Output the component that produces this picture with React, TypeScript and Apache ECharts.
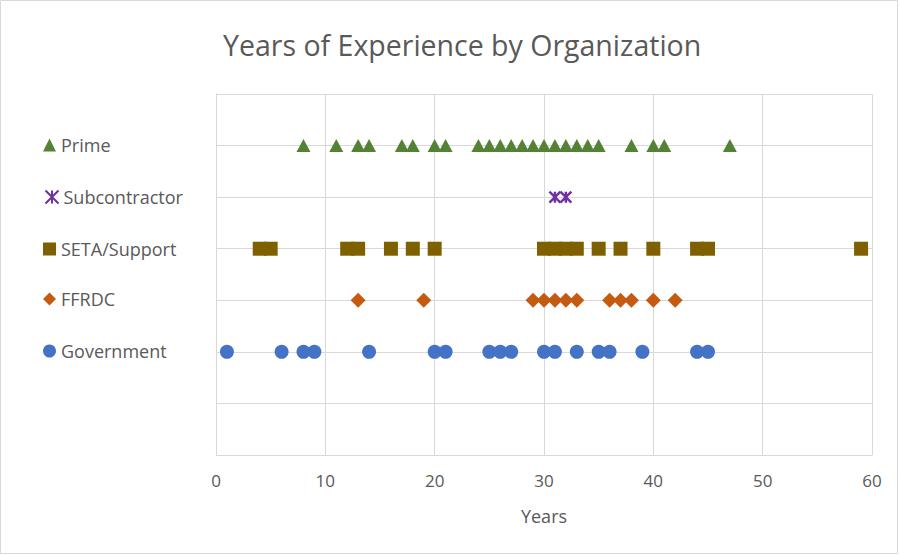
import React, { useEffect, useRef } from "react";
import * as echarts from "echarts";

const seriesNames = ["Government", "FFRDC", "SETA/Support", "Subcontractor", "Prime"];
const governmentYears = [1, 6, 8, 9, 14, 20, 21, 25, 26, 27, 30, 31, 33, 35, 36, 39, 44, 45];
const ffrdcYears = [13, 19, 29, 30, 31, 32, 33, 36, 37, 38, 40, 42];
const setaYears = [4, 5, 12, 13, 16, 18, 20, 30, 31, 32, 33, 35, 37, 40, 44, 45, 59];
const subcontractorYears = [31, 32];
const primeYears = [8, 11, 13, 14, 17, 18, 20, 21, 24, 25, 26, 27, 28, 29, 30, 31, 32, 33, 34, 35, 38, 40, 41, 47];
const rowLevels = [2, 3, 4, 5, 6];
const xTicks = [0, 10, 20, 30, 40, 50, 60];

const FONT = "'Open Sans', 'Noto Sans', sans-serif";
const TEXT = "#595959";

export default function App() {
  const ref = useRef<HTMLDivElement>(null);
  useEffect(() => {
    if (!ref.current) return;
    const chart = echarts.init(ref.current, undefined, { renderer: "svg" });
    const valuesList = [governmentYears, ffrdcYears, setaYears, subcontractorYears, primeYears];
    const colors = ["#4472C4", "#C55A11", "#7F6000", "#7030A0", "#548235"];
    const symbols = ["circle", "diamond", "rect", "path://M0,0L10,10M10,0L0,10M5,0L5,10", "triangle"];
    const sizes: any[] = [14, 15, [14, 14], 11, [14, 13]];
    const series = seriesNames.map((name, i) => {
      const isX = i === 3;
      return {
        name,
        type: "scatter",
        symbol: symbols[i],
        symbolSize: sizes[i],
        data: valuesList[i].map((v) => [v, rowLevels[i]]),
        itemStyle: isX
          ? { color: "none", borderColor: colors[i], borderWidth: 2.4, opacity: 1 }
          : { color: colors[i], opacity: 1 },
        emphasis: { disabled: true },
      };
    });
    const legendTops = [351, 299, 249, 197, 145];
    const legends = seriesNames.map((name, i) => ({
      data: [name],
      left: 38,
      top: legendTops[i] - 14,
      itemWidth: 13,
      itemHeight: 13,
      itemGap: 4,
      selectedMode: false,
      textStyle: { color: TEXT, fontSize: 18, fontFamily: FONT },
    }));
    chart.setOption({
      animation: false,
      backgroundColor: "#ffffff",
      title: {
        text: "Years of Experience by Organization",
        left: 218,
        top: 25,
        textStyle: { color: TEXT, fontSize: 28.5, fontWeight: "normal", fontFamily: FONT },
      },
      legend: legends,
      grid: { left: 216, top: 94, width: 656, height: 361 },
      xAxis: {
        type: "value",
        min: xTicks[0],
        max: xTicks[xTicks.length - 1],
        interval: 10,
        name: "Years",
        nameLocation: "middle",
        nameGap: 52,
        nameTextStyle: { color: TEXT, fontSize: 18, fontFamily: FONT },
        axisLine: { show: true, lineStyle: { color: "#d9d9d9" } },
        axisTick: { show: false },
        axisLabel: { color: TEXT, fontSize: 17, fontFamily: FONT, margin: 17 },
        splitLine: { show: true, lineStyle: { color: "#d9d9d9", width: 1 } },
      },
      yAxis: {
        type: "value",
        min: 0,
        max: 7,
        interval: 1,
        axisLine: { show: true, lineStyle: { color: "#d9d9d9" } },
        axisTick: { show: false },
        axisLabel: { show: false },
        splitLine: { show: true, lineStyle: { color: "#d9d9d9", width: 1 } },
      },
      graphic: [
        {
          type: "rect",
          shape: { x: 0.5, y: 0.5, width: 897, height: 553 },
          style: { fill: "none", stroke: "#d9d9d9", lineWidth: 1 },
          silent: true,
        },
      ],
      series,
    });
    return () => chart.dispose();
  }, []);
  return (
    <div
      ref={ref}
      style={{ position: "fixed", left: 0, top: 0, width: 900, height: 555 }}
    />
  );
}
